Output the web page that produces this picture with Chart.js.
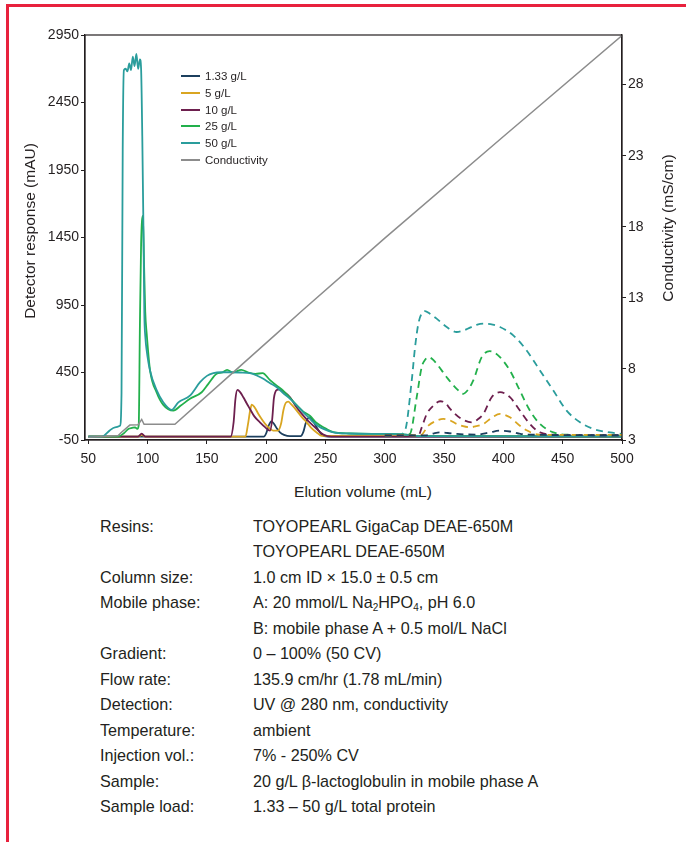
<!DOCTYPE html>
<html>
<head>
<meta charset="utf-8">
<script src="https://cdn.jsdelivr.net/npm/chart.js@4.4.0/dist/chart.umd.min.js"></script>
<style>
  body { margin: 0; background: #fff; }
  #page { position: relative; width: 686px; height: 842px; overflow: hidden; font-family: 'Liberation Sans', Arial, sans-serif; color: #231f20; }
  #frame { position: absolute; left: 6px; top: 4px; width: 700px; height: 860px; border-top: 3px solid #e8213d; border-left: 3px solid #e8213d; }
  #chartBox { position: absolute; left: 0; top: 0; }
  #legend { position: absolute; left: 181px; top: 68px; font-size: 11.5px; }
  .lg { height: 16.7px; display: flex; align-items: center; }
  .lg .sw { width: 19px; height: 2px; margin-right: 5px; }
  .ttl { position: absolute; font-size: 15.5px; white-space: nowrap; text-align: center; width: 240px; height: 20px; line-height: 20px; }
  #specs { position: absolute; left: 100px; top: 514px; font-size: 17px; line-height: 25.45px; transform: scaleX(0.95); transform-origin: left top; }
  #specs td { padding: 0; vertical-align: top; }
  #specs td.k { width: 161px; }
  #specs sub { font-size: 10.5px; vertical-align: -3px; line-height: 0; }
</style>
</head>
<body>
<div id="page">
  <div id="frame"></div>
  <div id="chartBox"><canvas id="chromChart" width="686" height="480"></canvas></div>
  <div id="legend"></div>
  <div class="ttl" style="left:-90px; top:221px; transform:rotate(-90deg);">Detector response (mAU)</div>
  <div class="ttl" style="left:548px; top:218px; transform:rotate(-90deg);">Conductivity (mS/cm)</div>
  <div class="ttl" style="left:243px; top:482px;">Elution volume (mL)</div>
  <table id="specs" cellspacing="0">
    <tr><td class="k">Resins:</td><td>TOYOPEARL GigaCap DEAE-650M</td></tr>
    <tr><td class="k"></td><td>TOYOPEARL DEAE-650M</td></tr>
    <tr><td class="k">Column size:</td><td>1.0 cm ID × 15.0 ± 0.5 cm</td></tr>
    <tr><td class="k">Mobile phase:</td><td>A: 20 mmol/L Na<sub>2</sub>HPO<sub>4</sub>, pH 6.0</td></tr>
    <tr><td class="k"></td><td>B: mobile phase A + 0.5 mol/L NaCl</td></tr>
    <tr><td class="k">Gradient:</td><td>0 – 100% (50 CV)</td></tr>
    <tr><td class="k">Flow rate:</td><td>135.9 cm/hr (1.78 mL/min)</td></tr>
    <tr><td class="k">Detection:</td><td>UV @ 280 nm, conductivity</td></tr>
    <tr><td class="k">Temperature:</td><td>ambient</td></tr>
    <tr><td class="k">Injection vol.:</td><td>7% - 250% CV</td></tr>
    <tr><td class="k">Sample:</td><td>20 g/L β-lactoglobulin in mobile phase A</td></tr>
    <tr><td class="k">Sample load:</td><td>1.33 – 50 g/L total protein</td></tr>
  </table>
</div>
<script>
// Tick labels
const volTicks = [50, 100, 150, 200, 250, 300, 350, 400, 450, 500];
const uvTicks = [-50, 450, 950, 1450, 1950, 2450, 2950];
const condTicks = [3, 8, 13, 18, 23, 28];

// Series names (legend)
const loadNames = ['1.33 g/L', '5 g/L', '10 g/L', '25 g/L', '50 g/L'];
const condName = 'Conductivity';

// Solid traces (mL, mAU)
const vol133 = [50, 198, 200, 202, 204.3, 206.5, 209, 211.6, 215, 220, 229, 231.3, 233.5, 236.3, 239, 242.5, 246.7, 252, 500];
const resp133 = [-25, -25, 0, 55, 88, 70, 35, 6, -12, -22, -22, 10, 80, 118, 100, 44, -10, -25, -25];

const vol5 = [50, 92, 95, 98, 182.5, 184.5, 186.5, 187.8, 190, 193.4, 197, 200.4, 203, 206, 210, 212.5, 214.5, 216.5, 218.6, 221, 225.7, 230, 234.1, 238, 242.5, 247, 500];
const resp5 = [-25, -25, -12, -25, -25, 60, 170, 212, 195, 143, 95, 56, 35, 19, 20, 70, 170, 225, 235, 215, 168, 120, 81, 40, 6, -20, -25];

const vol10 = [50, 92, 95, 98, 170, 172.5, 174, 175.7, 178, 180.7, 183.5, 186.3, 190, 194.7, 199, 203.2, 205, 206.5, 208.9, 211, 215, 220.1, 225, 231.3, 235.5, 239.8, 244, 248.2, 255, 500];
const resp10 = [-25, -25, -3, -25, -25, 80, 250, 321, 305, 267, 222, 180, 125, 81, 45, 19, 100, 260, 321, 325, 305, 267, 200, 130, 90, 55, 20, -10, -25, -25];

const vol25 = [50, 75, 80, 83.7, 87, 89.4, 91.3, 92.5, 93.5, 94.5, 96, 97, 98, 99.2, 102, 107.7, 113.2, 121.7, 128, 135.7, 145.6, 151.2, 158.2, 163, 167, 172, 179, 185, 191, 197, 203, 208.9, 214.3, 220, 226, 231.3, 236.8, 242, 248.2, 256.6, 270, 300, 315, 330, 500];
const resp25 = [-25, -25, 0, 32, 40, 44, 32, 60, 800, 1400, 1610, 1250, 900, 740, 470, 300, 210, 168, 205, 255, 304, 366, 440, 450, 470, 450, 470, 450, 440, 445, 395, 352, 316, 262, 205, 160, 130, 80, 45, 8, -2, -5, -8, -22, -23];

const vol50 = [50, 60, 63, 68, 72.5, 76.7, 78, 79, 80, 81.5, 83, 84.5, 86, 87.5, 89, 90.5, 92, 93.5, 94.5, 95.5, 96.5, 97.2, 98.2, 99.2, 102, 107.7, 113.2, 120.3, 125.9, 135.7, 144.2, 150, 155.4, 162, 169.5, 178, 186.3, 192, 197.6, 203, 208.9, 214, 220.1, 226, 231.3, 236, 239.8, 244, 248.2, 256.6, 270, 300, 315, 330, 500];
const resp50 = [-25, -25, -20, 20, 44, 56, 300, 2100, 2690, 2700, 2680, 2740, 2690, 2790, 2720, 2810, 2700, 2770, 2700, 2200, 1500, 900, 700, 614, 465, 317, 229, 173, 229, 279, 378, 425, 445, 452, 452, 450, 445, 428, 403, 372, 341, 300, 255, 205, 155, 115, 81, 52, 32, 6, -2, -5, -8, -22, -24];

// Dashed traces (second resin)
const dVol133 = [300, 335, 341, 346.6, 353, 360.6, 377.5, 388, 397.1, 405.5, 412, 419.6, 500];
const dResp133 = [-15, -15, -2, 6, 2, -5, -10, 5, 19, 13, 0, -10, -15];

const dVol5 = [300, 330, 336.7, 343.7, 349.3, 355, 360.6, 366, 371.8, 377, 383.1, 391.5, 397.1, 405.5, 413.9, 420, 425.2, 433, 500];
const dResp5 = [-15, -15, 56, 93, 106, 95, 69, 52, 44, 52, 69, 123, 143, 118, 56, 20, -1, -12, -12];

const dVol10 = [300, 328.3, 331, 335.4, 341, 346.6, 351, 355.1, 363.5, 373.3, 378, 383.1, 390.1, 397.1, 405.5, 413.9, 422.3, 430.8, 445, 500];
const dResp10 = [-15, -18, 40, 143, 205, 237, 225, 180, 113, 81, 100, 143, 267, 304, 267, 168, 69, 6, -12, -15];

const dVol25 = [300, 321, 326.9, 331.1, 334, 336.7, 340, 343.7, 352.2, 360.6, 366.2, 370, 374.6, 381.7, 388.5, 393, 397.1, 405.5, 413.9, 422.3, 430.8, 442.1, 453, 500];
const dResp25 = [-15, -5, 267, 490, 545, 564, 550, 515, 415, 329, 292, 320, 391, 564, 608, 595, 564, 465, 316, 168, 69, 6, -10, -15];

const dVol50 = [300, 312, 317, 322.7, 325.5, 328.3, 331, 333.9, 338, 343.7, 352.2, 360.6, 366, 371.8, 378, 384.5, 391, 397.1, 408.3, 419.6, 430.8, 442.1, 453.3, 464.6, 475.8, 490, 500];
const dResp50 = [-15, -10, 19, 390, 638, 812, 885, 905, 885, 849, 787, 750, 760, 782, 805, 812, 805, 787, 725, 613, 465, 316, 168, 81, 32, 6, -5];

// Conductivity (mL, mS/cm)
const condVol = [50, 75, 78, 85, 92, 95, 97, 123, 170, 209, 229, 300, 400, 500];
const condVal = [3.2, 3.3, 3.55, 4.05, 4.08, 4.45, 4.1, 4.1, 7.6, 10.5, 12.0, 17.2, 24.35, 31.45];

// Colours
const loadColors = ['#1c3f5e', '#d9a521', '#6d1f4e', '#22b04b', '#2a9d9c'];
const condColor = '#8c8c8c';
const ink = '#231f20';

function toPoints(xs, ys) {
    return xs.map((x, i) => ({ x: x, y: ys[i] }));
}

const solidSets = [[vol133, resp133], [vol5, resp5], [vol10, resp10], [vol25, resp25], [vol50, resp50]];
const dashedSets = [[dVol133, dResp133], [dVol5, dResp5], [dVol10, dResp10], [dVol25, dResp25], [dVol50, dResp50]];

const datasets = [];
datasets.push({
    label: condName,
    data: toPoints(condVol, condVal),
    borderColor: condColor,
    borderWidth: 1.5,
    yAxisID: 'y2',
    order: 0
});
dashedSets.forEach((s, i) => {
    datasets.push({
        label: loadNames[i] + ' dashed',
        data: toPoints(s[0], s[1]),
        borderColor: loadColors[i],
        borderWidth: 1.8,
        borderDash: [7, 5],
        yAxisID: 'y',
        cubicInterpolationMode: 'monotone',
        order: 1 + i
    });
});
solidSets.forEach((s, i) => {
    datasets.push({
        label: loadNames[i],
        data: toPoints(s[0], s[1]),
        borderColor: loadColors[i],
        borderWidth: 1.8,
        yAxisID: 'y',
        cubicInterpolationMode: 'monotone',
        order: 10 - i
    });
});

// Box around the plot area
const frameBox = {
    id: 'frameBox',
    afterDraw(chart) {
        const a = chart.chartArea;
        const ctx = chart.ctx;
        ctx.save();
        ctx.strokeStyle = ink;
        ctx.lineWidth = 1.2;
        ctx.strokeRect(a.left, a.top, a.right - a.left, a.bottom - a.top);
        ctx.restore();
    }
};

const tickFont = { family: "'Liberation Sans', Arial, sans-serif", size: 14 };
const plain = v => String(v);

const ctx = document.getElementById('chromChart').getContext('2d');
new Chart(ctx, {
    type: 'line',
    data: { datasets: datasets },
    plugins: [frameBox],
    options: {
        responsive: false,
        animation: false,
        elements: { point: { radius: 0 } },
        layout: { padding: { left: 0, right: 0, top: 35, bottom: 0 } },
        plugins: { legend: { display: false }, tooltip: { enabled: false } },
        scales: {
            x: {
                type: 'linear',
                min: 47.2,
                max: 500,
                afterBuildTicks: s => { s.ticks = volTicks.map(v => ({ value: v })); },
                afterFit: s => { s.height = 40; },
                ticks: { font: tickFont, color: ink, padding: 7, autoSkip: false, maxRotation: 0, callback: plain },
                grid: { drawOnChartArea: false, tickLength: 4, color: ink },
                border: { color: ink, width: 1.2 }
            },
            y: {
                min: -50,
                max: 2950,
                afterBuildTicks: s => { s.ticks = uvTicks.map(v => ({ value: v })); },
                afterFit: s => { s.width = 85; },
                ticks: { font: tickFont, color: ink, padding: 2, callback: plain },
                grid: { drawOnChartArea: false, tickLength: 4, color: ink },
                border: { color: ink, width: 1.2 }
            },
            y2: {
                position: 'right',
                min: 3,
                max: 31.49,
                afterBuildTicks: s => { s.ticks = condTicks.map(v => ({ value: v })); },
                afterFit: s => { s.width = 64; },
                ticks: { font: tickFont, color: ink, padding: 2, callback: plain },
                grid: { drawOnChartArea: false, tickLength: 4, color: ink },
                border: { color: ink, width: 1.2 }
            }
        }
    }
});

// Legend: solid loads plus conductivity
const legend = document.getElementById('legend');
loadNames.concat([condName]).forEach((name, i) => {
    const color = i < loadColors.length ? loadColors[i] : condColor;
    legend.innerHTML += `<div class="lg"><span class="sw" style="background:${color}"></span>${name}</div>`;
});
</script>
</body>
</html>
